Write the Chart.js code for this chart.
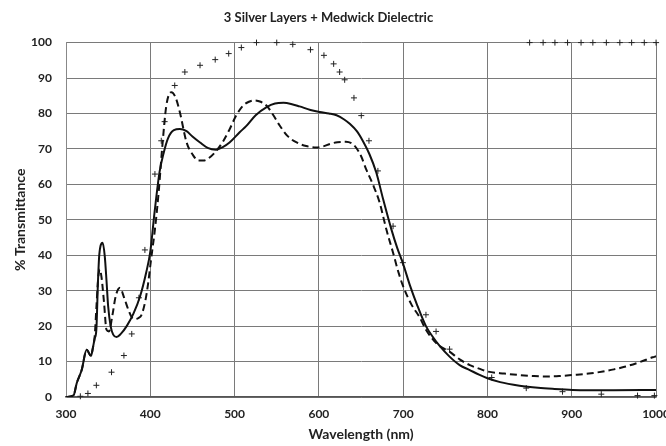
<!DOCTYPE html>
<html>
<head>
<meta charset="utf-8">
<script src="https://cdn.jsdelivr.net/npm/chart.js@4/dist/chart.umd.min.js"></script>
<style>
  body { margin: 0; background: #fff; }
  #wrap { width: 666px; height: 446px; overflow: hidden; }
</style>
</head>
<body>
<div id="wrap"><canvas id="mycanvas" width="680" height="446"></canvas></div>
<script>
// solid curve (wavelength, %T)
var solid_x = [300, 309, 312.7, 318.6, 324.5, 329.6, 332, 334, 336, 338, 339.5, 343.5, 346, 348, 350, 353, 356, 360, 365, 372, 380, 388, 395, 400, 405, 411, 416, 421, 428, 435, 443, 450, 459, 468, 478, 486, 494, 506, 514, 525, 538, 548, 558, 567, 577, 590, 601, 612, 621, 630, 637, 645, 652, 660, 668, 676, 686, 693, 700, 708, 716, 727, 735, 743, 755, 767, 779, 790, 800, 815, 838, 860, 877, 901, 950, 1000];
var solid_y = [0, 0.5, 3.9, 7.6, 13.3, 11.6, 14, 16.5, 19, 33, 40.2, 43.5, 39.7, 33, 25.6, 19.9, 17.6, 16.9, 17.8, 20, 23.5, 28.5, 35, 41, 52, 63.5, 69, 73, 75.3, 75.6, 75, 73.5, 71.8, 70.3, 69.8, 70.5, 71.8, 74.7, 76.5, 79.5, 81.8, 82.8, 83, 82.7, 82, 81, 80.4, 80, 79.5, 78.3, 77, 75, 72.3, 68.5, 63.4, 56, 47.3, 42, 37.5, 31.5, 26.3, 20, 17, 14.5, 11.4, 9, 7.6, 6.3, 5.3, 4.2, 3.2, 2.6, 2.3, 2.0, 1.9, 2.0];

// dashed curve
var dash_x = [300, 309, 312.7, 318.6, 324.5, 329.6, 332, 334, 336, 338, 340, 342, 345, 348, 351, 355, 359, 364, 369, 374, 378, 382, 386, 389.6, 394, 397.5, 401, 405.5, 410, 414, 419, 425, 430, 435, 443, 450, 457, 463, 470, 478.5, 486, 494, 502, 510, 517, 524, 531, 538, 546, 553.5, 563, 573, 585, 597, 605, 613, 622, 632, 640, 644, 650, 656, 664, 672, 680, 688, 694, 700, 710, 719, 727, 740, 755, 767, 779, 790, 800, 820, 838, 855, 870, 885, 901, 920, 937, 950, 964, 980, 996, 1000];
var dash_y = [0, 0.5, 3.9, 7.6, 13.3, 11.6, 14, 17, 25, 33, 36, 34, 27, 19, 18.5, 23, 28.5, 30.8, 28, 24.6, 22.5, 22, 22.3, 23.2, 27, 32.2, 39, 47.3, 58, 70, 82.2, 86, 84.5, 80.4, 71.9, 68.5, 66.7, 66.7, 67.5, 69.5, 72, 75.5, 79.5, 82.2, 83.3, 83.7, 83.3, 82.2, 79.5, 76.6, 73.6, 71.9, 70.8, 70.4, 70.7, 71.4, 71.9, 72, 71.4, 70.4, 68, 64.3, 60, 54.9, 47.3, 40.7, 35.5, 31.2, 26, 22.7, 19, 15, 12.8, 10.6, 9, 8, 7.2, 6.6, 6.2, 5.9, 5.8, 5.9, 6.2, 6.6, 7.2, 7.8, 8.6, 9.8, 11.2, 11.5];

// cross markers
var cross_x = [317, 326, 336, 354, 368.7, 378, 386.5, 393.6, 405.5, 413, 417, 429, 441, 459, 477, 493, 508, 526, 550, 569, 590, 606, 617.5, 624.6, 630.6, 641.6, 650.3, 659.4, 670, 688, 699.6, 727, 739, 755, 805, 846, 889, 935, 978, 998,
               850, 866, 880, 895, 911, 925, 941, 957, 971, 986, 1000];
var cross_y = [0.2, 1, 3.3, 7, 11.7, 17.8, 28, 41.5, 62.9, 72.3, 77.7, 87.9, 91.7, 93.6, 95.2, 96.9, 98.6, 100, 100, 99.5, 98, 96.4, 94, 91.7, 89.5, 84.4, 79.4, 72.3, 63.8, 48.2, 37.9, 23.2, 18.5, 13.5, 5.5, 2.5, 1.5, 0.8, 0.4, 0.4,
               100, 100, 100, 100, 100, 100, 100, 100, 100, 100, 100];

var x_ticks = [300, 400, 500, 600, 700, 800, 900, 1000];
var y_ticks = [0, 10, 20, 30, 40, 50, 60, 70, 80, 90, 100];

function pts(xs, ys) {
  var out = [];
  for (var i in xs) {
    out.push({x: xs[i], y: ys[i]});
  }
  return out;
}

var FONT = 'Lato, "Open Sans", sans-serif';

var chartdata = {
  datasets: [
    {
      label: "solid",
      data: pts(solid_x, solid_y),
      showLine: true,
      borderColor: "#111",
      borderWidth: 2,
      pointRadius: 0,
      cubicInterpolationMode: "monotone",
      fill: false
    },
    {
      label: "dashed",
      data: pts(dash_x, dash_y),
      showLine: true,
      borderColor: "#111",
      borderWidth: 2,
      borderDash: [7, 4],
      pointRadius: 0,
      cubicInterpolationMode: "monotone",
      fill: false
    },
    {
      label: "cross",
      data: pts(cross_x, cross_y),
      showLine: false,
      pointStyle: "cross",
      pointRadius: 3,
      borderWidth: 1,
      borderColor: "#222",
      backgroundColor: "#222",
      clip: false
    }
  ]
};

var ctx = document.getElementById("mycanvas");

var TransChart = new Chart(ctx, {
  type: 'scatter',
  data: chartdata,
  options: {
    responsive: false,
    animation: false,
    layout: { padding: { right: 23 } },
    plugins: {
      legend: { display: false },
      tooltip: { enabled: false },
      title: {
        display: true,
        text: '3 Silver Layers + Medwick Dielectric',
        color: '#222',
        font: { family: FONT, size: 13, weight: 'bold' },
        padding: { top: 10, bottom: 17 }
      }
    },
    scales: {
      x: {
        type: 'linear',
        min: 300,
        max: 1000,
        afterBuildTicks: function(s) { s.ticks = x_ticks.map(function(v) { return {value: v}; }); },
        afterFit: function(s) { s.height = 49; },
        ticks: { color: '#222', font: { family: FONT, size: 12, weight: 'bold' }, padding: 10, maxRotation: 0,
                 callback: function(v) { return String(v); } },
        grid: { color: '#7a7a7a', drawTicks: false },
        border: { color: '#555', width: 1.5 },
        title: { display: true, text: 'Wavelength (nm)', color: '#222', font: { family: FONT, size: 14, weight: 'bold' }, padding: { top: 0, bottom: 3 } }
      },
      y: {
        min: 0,
        max: 100,
        afterBuildTicks: function(s) { s.ticks = y_ticks.map(function(v) { return {value: v}; }); },
        afterFit: function(s) { s.width = 66; },
        ticks: { color: '#222', font: { family: FONT, size: 12, weight: 'bold' }, padding: 14,
                 callback: function(v) { return String(v); } },
        grid: { color: '#7a7a7a', drawTicks: false },
        border: { color: '#888', width: 1 },
        title: { display: true, text: '% Transmittance', color: '#222', font: { family: FONT, size: 14, weight: 'bold' }, padding: { top: 12, bottom: 0 } }
      }
    }
  }
});
</script>
</body>
</html>
